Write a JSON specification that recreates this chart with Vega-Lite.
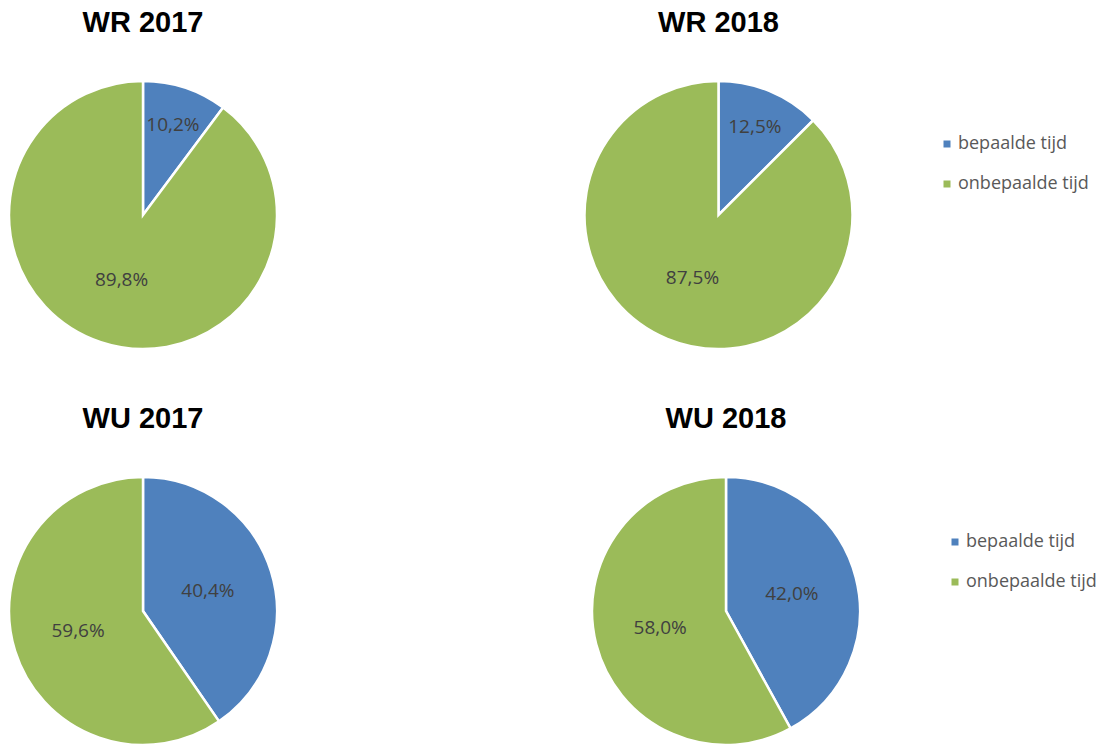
{
  "$schema": "https://vega.github.io/schema/vega-lite/v6.json",
  "background": "white",
  "padding": {"left": 4, "top": 9, "right": 0, "bottom": 0},
  "data": {"values": [
    {"grafiek": "WR 2017", "contract": "bepaalde tijd", "aandeel": 0.102},
    {"grafiek": "WR 2017", "contract": "onbepaalde tijd", "aandeel": 0.898},
    {"grafiek": "WR 2018", "contract": "bepaalde tijd", "aandeel": 0.125},
    {"grafiek": "WR 2018", "contract": "onbepaalde tijd", "aandeel": 0.875},
    {"grafiek": "WU 2017", "contract": "bepaalde tijd", "aandeel": 0.404},
    {"grafiek": "WU 2017", "contract": "onbepaalde tijd", "aandeel": 0.596},
    {"grafiek": "WU 2018", "contract": "bepaalde tijd", "aandeel": 0.42},
    {"grafiek": "WU 2018", "contract": "onbepaalde tijd", "aandeel": 0.58}
  ]},
  "config": {
    "locale": {"number": {"decimal": ",", "thousands": ".", "grouping": [3], "currency": ["€", ""]}},
    "view": {"stroke": null},
    "title": {"font": "Liberation Sans", "fontSize": 29, "fontWeight": "bold", "color": "#000000", "anchor": "middle", "baseline": "alphabetic", "offset": 38},
    "legend": {"symbolType": "square", "symbolSize": 49, "symbolStrokeWidth": 0, "labelFont": "Open Sans", "labelFontSize": 18, "labelColor": "#595959", "rowPadding": 22, "labelOffset": 2, "padding": 0, "title": null}
  },
  "spacing": 51,
  "resolve": {"scale": {"color": "independent"}, "legend": {"color": "independent"}},
  "vconcat": [
    {
      "spacing": 297.5,
      "hconcat": [
        {
          "title": "WR 2017", "width": 268, "height": 268,
          "transform": [{"filter": "datum.grafiek === 'WR 2017'"}],
          "encoding": {"theta": {"field": "aandeel", "type": "quantitative", "stack": true}},
          "layer": [
            {"mark": {"type": "arc", "stroke": "white", "strokeWidth": 2.5},
             "encoding": {"color": {"field": "contract", "type": "nominal", "scale": {"domain": ["bepaalde tijd", "onbepaalde tijd"], "range": ["#4F81BD", "#9BBB59"]}, "legend": {"orient": "none", "legendX": 929, "legendY": 54}}}},
            {"mark": {"type": "text", "radius": 95, "font": "Open Sans", "fontSize": 19},
             "encoding": {"detail": {"field": "contract"}, "color": {"value": "#404040"}, "text": {"condition": {"test": "datum.aandeel < 0.2", "field": "aandeel", "type": "quantitative", "format": ".1%"}, "value": ""}}},
            {"mark": {"type": "text", "radius": 68, "font": "Open Sans", "fontSize": 19},
             "encoding": {"detail": {"field": "contract"}, "color": {"value": "#404040"}, "text": {"condition": {"test": "datum.aandeel >= 0.2", "field": "aandeel", "type": "quantitative", "format": ".1%"}, "value": ""}}}
          ]
        },
        {
          "title": "WR 2018", "width": 268, "height": 268,
          "transform": [{"filter": "datum.grafiek === 'WR 2018'"}],
          "encoding": {"theta": {"field": "aandeel", "type": "quantitative", "stack": true}},
          "layer": [
            {"mark": {"type": "arc", "stroke": "white", "strokeWidth": 2.5},
             "encoding": {"color": {"field": "contract", "type": "nominal", "scale": {"domain": ["bepaalde tijd", "onbepaalde tijd"], "range": ["#4F81BD", "#9BBB59"]}, "legend": {"orient": "none", "legendX": 929, "legendY": 54}}}},
            {"mark": {"type": "text", "radius": 95, "font": "Open Sans", "fontSize": 19},
             "encoding": {"detail": {"field": "contract"}, "color": {"value": "#404040"}, "text": {"condition": {"test": "datum.aandeel < 0.2", "field": "aandeel", "type": "quantitative", "format": ".1%"}, "value": ""}}},
            {"mark": {"type": "text", "radius": 68, "font": "Open Sans", "fontSize": 19},
             "encoding": {"detail": {"field": "contract"}, "color": {"value": "#404040"}, "text": {"condition": {"test": "datum.aandeel >= 0.2", "field": "aandeel", "type": "quantitative", "format": ".1%"}, "value": ""}}}
          ]
        }
      ]
    },
    {
      "spacing": 305,
      "hconcat": [
        {
          "title": "WU 2017", "width": 268, "height": 268,
          "transform": [{"filter": "datum.grafiek === 'WU 2017'"}],
          "encoding": {"theta": {"field": "aandeel", "type": "quantitative", "stack": true}},
          "layer": [
            {"mark": {"type": "arc", "stroke": "white", "strokeWidth": 2.5},
             "encoding": {"color": {"field": "contract", "type": "nominal", "scale": {"domain": ["bepaalde tijd", "onbepaalde tijd"], "range": ["#4F81BD", "#9BBB59"]}, "legend": {"orient": "none", "legendX": 937, "legendY": 56}}}},
            {"mark": {"type": "text", "radius": 95, "font": "Open Sans", "fontSize": 19},
             "encoding": {"detail": {"field": "contract"}, "color": {"value": "#404040"}, "text": {"condition": {"test": "datum.aandeel < 0.2", "field": "aandeel", "type": "quantitative", "format": ".1%"}, "value": ""}}},
            {"mark": {"type": "text", "radius": 68, "font": "Open Sans", "fontSize": 19},
             "encoding": {"detail": {"field": "contract"}, "color": {"value": "#404040"}, "text": {"condition": {"test": "datum.aandeel >= 0.2", "field": "aandeel", "type": "quantitative", "format": ".1%"}, "value": ""}}}
          ]
        },
        {
          "title": "WU 2018", "width": 268, "height": 268,
          "transform": [{"filter": "datum.grafiek === 'WU 2018'"}],
          "encoding": {"theta": {"field": "aandeel", "type": "quantitative", "stack": true}},
          "layer": [
            {"mark": {"type": "arc", "stroke": "white", "strokeWidth": 2.5},
             "encoding": {"color": {"field": "contract", "type": "nominal", "scale": {"domain": ["bepaalde tijd", "onbepaalde tijd"], "range": ["#4F81BD", "#9BBB59"]}, "legend": {"orient": "none", "legendX": 937, "legendY": 56}}}},
            {"mark": {"type": "text", "radius": 95, "font": "Open Sans", "fontSize": 19},
             "encoding": {"detail": {"field": "contract"}, "color": {"value": "#404040"}, "text": {"condition": {"test": "datum.aandeel < 0.2", "field": "aandeel", "type": "quantitative", "format": ".1%"}, "value": ""}}},
            {"mark": {"type": "text", "radius": 68, "font": "Open Sans", "fontSize": 19},
             "encoding": {"detail": {"field": "contract"}, "color": {"value": "#404040"}, "text": {"condition": {"test": "datum.aandeel >= 0.2", "field": "aandeel", "type": "quantitative", "format": ".1%"}, "value": ""}}}
          ]
        }
      ]
    }
  ]
}
